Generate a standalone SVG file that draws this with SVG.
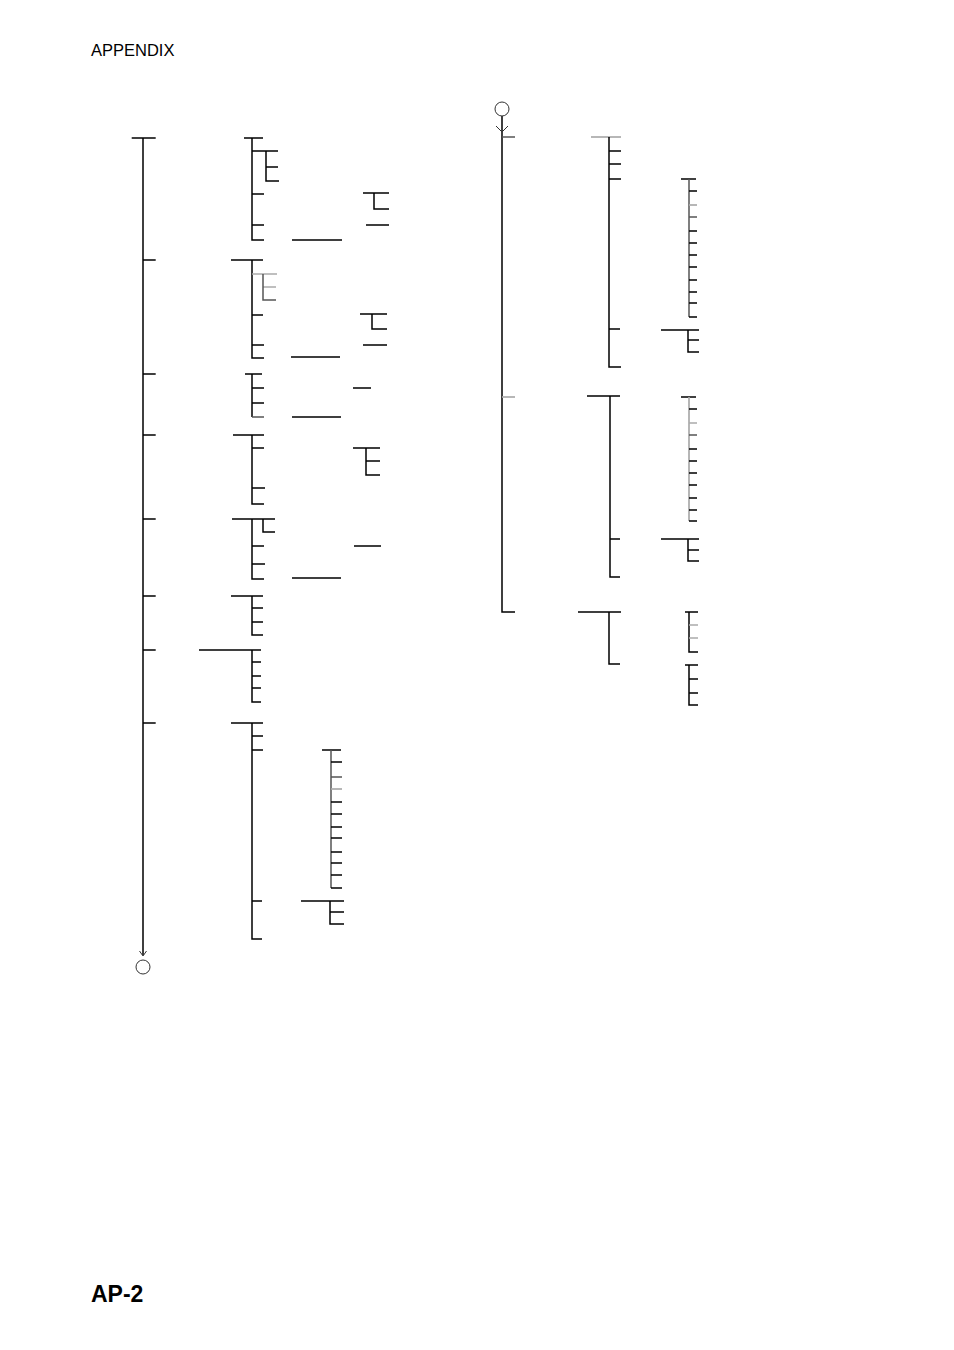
<svg xmlns="http://www.w3.org/2000/svg" width="954" height="1350" viewBox="0 0 954 1350">
<style>
.l{fill:none;stroke:#000;stroke-width:1.5}
.g1{fill:none;stroke:#aaa;stroke-width:1.7}
.g2{fill:none;stroke:#555;stroke-width:1.5}
.c{fill:none;stroke:#333;stroke-width:1}
.t{font-family:"Liberation Sans",Arial,sans-serif;fill:#000}
</style>
<rect width="954" height="1350" fill="#fff"/>
<text class="t" x="91" y="55.5" font-size="16.5">APPENDIX</text>
<text class="t" x="91" y="1301.5" font-size="23" font-weight="bold">AP-2</text>

<g id="connectors">
  <path class="l" d="M143 138 V955 M131.7 138 H155.7 M143 260 H155.7 M143 374 H155.7 M143 435 H155.7 M143 519 H155.7 M143 596 H155.7 M143 650 H155.7 M143 723 H155.7"/>
  <path class="c" d="M139.5 951 L143 956 L146.5 951"/>
  <path class="l" d="M502 116 V612 H515"/>
  <path class="c" d="M496 126 L502 132 L508 126"/>
  <path class="g2" d="M502 137 H515"/>
  <path class="g1" d="M502 397 H515"/>
</g>

<g id="start-left"><circle class="c" cx="143" cy="967" r="7"/></g>
<g id="start-right"><circle class="c" cx="502" cy="109" r="7"/></g>

<g id="L1">
  <path class="l" d="M244 138 H263 M252 138 V240 H264 M252 151 H278 M266 151 V181 H279 M266 167 H278 M252 194 H264 M252 225 H264 M292 240 H342"/>
  <path class="l" d="M363 193 H389 M374 193 V209 H389 M366 225 H389"/>
</g>
<g id="L2">
  <path class="l" d="M231 260 H263 M252 260 V358 H264 M252 315 H263 M252 345 H264 M291 357 H340"/>
  <path class="g1" d="M252 274 H277 M263 287 H276"/>
  <path class="g2" d="M263 274 V300 H276"/>
  <path class="l" d="M360 314 H387 M372 314 V329 H387 M363 345 H387"/>
</g>
<g id="L3">
  <path class="l" d="M245 374 H262 M252 374 V417 M252 388 H264 M252 403 H264 M292 417 H341 M353 388 H371"/>
  <path class="g2" d="M252 417 H264"/>
</g>
<g id="L4">
  <path class="l" d="M233 435 H264 M252 435 V504 H264 M252 448 H264 M252 488 H265"/>
  <path class="l" d="M353 448 H380 M366 448 V475 H380 M366 461 H380"/>
</g>
<g id="L5">
  <path class="l" d="M232 519 H275 M252 519 V579 H264 M263 519 V532 H275 M252 546 H264 M252 564 H265 M292 578 H341 M354 546 H381"/>
</g>
<g id="L6">
  <path class="l" d="M231 596 H263 M252 596 V635 H263 M252 608 H263 M252 622 H263"/>
</g>
<g id="L7">
  <path class="l" d="M199 650 H261 M252 650 V702 H261 M252 662 H261 M252 676 H261 M252 688 H261"/>
</g>
<g id="L8">
  <path class="l" d="M231 723 H263 M252 723 V939 H262 M252 736 H263 M252 750 H263 M252 901 H262"/>
</g>
<g id="L8a">
  <path class="l" d="M322 750 H341"/>
  <path class="g2" d="M331 750 V888 M331 777 H342"/>
  <path class="g1" d="M331 789 H342"/>
  <path class="l" d="M331 762 H342 M331 802 H342 M331 814 H342 M331 827 H342 M331 838 H342 M331 852 H342 M331 863 H342 M331 875 H342 M331 888 H342"/>
</g>
<g id="L8b">
  <path class="l" d="M301 901 H344 M330 901 V924 H344 M330 912 H344"/>
</g>

<g id="R1">
  <path class="g1" d="M591 137 H621"/>
  <path class="l" d="M609 137 V367 H621 M609 151 H621 M609 164 H621 M609 179 H621 M609 329 H620"/>
</g>
<g id="R1a">
  <path class="l" d="M681 179 H696"/>
  <path class="g2" d="M689 179 V317 M689 217 H697"/>
  <path class="g1" d="M689 205 H697"/>
  <path class="l" d="M689 191 H697 M689 231 H697 M689 243 H697 M689 255 H697 M689 267 H697 M689 280 H697 M689 292 H697 M689 303 H697 M689 317 H697"/>
</g>
<g id="R1b">
  <path class="l" d="M661 330 H699 M688 330 V352 H699 M688 340 H699"/>
</g>
<g id="R2">
  <path class="l" d="M587 396 H620 M610 396 V577 H620 M610 539 H620"/>
</g>
<g id="R2a">
  <path class="l" d="M681 397 H696"/>
  <path class="g1" d="M689 397 V521 M689 423 H697"/>
  <path class="g2" d="M689 435 H697"/>
  <path class="l" d="M689 409 H697 M689 449 H697 M689 461 H697 M689 473 H697 M689 485 H697 M689 498 H697 M689 510 H697 M689 521 H697"/>
</g>
<g id="R2b">
  <path class="l" d="M661 539 H699 M688 539 V561 H699 M688 550 H699"/>
</g>
<g id="R3">
  <path class="l" d="M578 612 H621 M609 612 V664 H620"/>
</g>
<g id="R3a">
  <path class="l" d="M685 612 H698 M689 612 V652 H698"/>
  <path class="g1" d="M689 625 H698 M689 638 H698"/>
</g>
<g id="R3b">
  <path class="l" d="M685 665 H698 M689 665 V705 H698 M689 679 H698 M689 693 H698"/>
</g>
</svg>
